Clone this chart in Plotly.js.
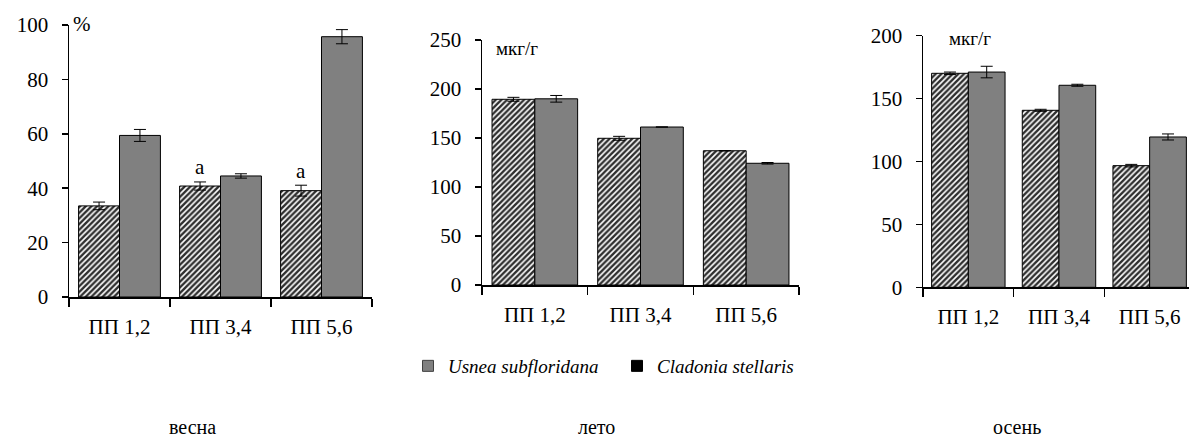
<!DOCTYPE html>
<html>
<head>
<meta charset="utf-8">
<script src="https://cdn.plot.ly/plotly-3.0.1.min.js"></script>
<style>html,body{margin:0;padding:0;background:#fff;}#chart{width:1189px;height:438px;}</style>
</head>
<body>
<div id="chart"></div>
<script>
// Data
var categories = ["ПП 1,2", "ПП 3,4", "ПП 5,6"];
var seriesNames = ["Usnea subfloridana", "Cladonia stellaris"];
var seasons = ["весна", "лето", "осень"];
var units = ["%", "мкг/г", "мкг/г"];

var springUsnea = [33.5, 40.8, 39.1];
var springUsneaErr = [1.4, 1.5, 2.0];
var springCladonia = [59.4, 44.5, 95.7];
var springCladoniaErr = [2.2, 0.8, 2.6];

var summerUsnea = [189.5, 149.7, 137.0];
var summerUsneaErr = [2.0, 2.0, 0];
var summerCladonia = [190.0, 161.2, 124.2];
var summerCladoniaErr = [3.4, 0, 0.8];

var autumnUsnea = [170.1, 140.7, 96.7];
var autumnUsneaErr = [1.0, 0.8, 1.0];
var autumnCladonia = [171.1, 160.6, 119.5];
var autumnCladoniaErr = [4.6, 0.8, 2.4];

var springMarks = ["", "a", "a"];

var FONT = '"Liberation Serif", "Times New Roman", serif';

function hatched(x, y, err, xa, ya) {
  return {
    type: "bar", x: x, y: y, xaxis: xa, yaxis: ya, showlegend: false,
    marker: {
      color: "#ffffff",
      line: {color: "#000000", width: 1},
      pattern: {shape: "/", fgcolor: "#2e2e2e", bgcolor: "#ffffff", size: 4, solidity: 0.6, fillmode: "replace"}
    },
    error_y: {type: "data", array: err, visible: true, color: "#000000", thickness: 1, width: 6},
    hoverinfo: "none"
  };
}
function solid(x, y, err, xa, ya) {
  return {
    type: "bar", x: x, y: y, xaxis: xa, yaxis: ya, showlegend: false,
    marker: {color: "#808080", line: {color: "#000000", width: 1}},
    error_y: {type: "data", array: err, visible: true, color: "#000000", thickness: 1, width: 6},
    hoverinfo: "none"
  };
}

var data = [
  hatched(categories, springUsnea, springUsneaErr, "x", "y"),
  solid(categories, springCladonia, springCladoniaErr, "x", "y"),
  hatched(categories, summerUsnea, summerUsneaErr, "x2", "y2"),
  solid(categories, summerCladonia, summerCladoniaErr, "x2", "y2"),
  hatched(categories, autumnUsnea, autumnUsneaErr, "x3", "y3"),
  solid(categories, autumnCladonia, autumnCladoniaErr, "x3", "y3"),
  // legend entries (no marks drawn)
  {type: "scatter", mode: "markers", x: [null], y: [null], xaxis: "x", yaxis: "y",
   name: "<i>" + seriesNames[0] + "</i>",
   marker: {symbol: "square", size: 11, color: "#808080", line: {color: "#404040", width: 1}}, showlegend: true},
  {type: "scatter", mode: "markers", x: [null], y: [null], xaxis: "x", yaxis: "y",
   name: "<i>" + seriesNames[1] + "</i>",
   marker: {symbol: "square", size: 11, color: "#000000", line: {color: "#000000", width: 1}}, showlegend: true}
];

function xax(domain, range) {
  return {
    domain: domain, type: "category", range: range,
    showline: true, linecolor: "#000", linewidth: 1.5,
    ticks: "outside", tickson: "boundaries", ticklen: 8, tickwidth: 1.5, tickcolor: "#000",
    ticklabelstandoff: 10,
    showgrid: false, zeroline: false, fixedrange: true,
    tickfont: {family: FONT, size: 21, color: "#000"}
  };
}
function yax(domain, range, dtick, anchor) {
  return {
    domain: domain, range: range, dtick: dtick, anchor: anchor,
    showline: true, linecolor: "#000", linewidth: 1.5,
    ticks: "outside", ticklen: 6, tickwidth: 1.5, tickcolor: "#000",
    ticklabelstandoff: 9,
    showgrid: false, zeroline: false, fixedrange: true,
    tickfont: {family: FONT, size: 21, color: "#000"}
  };
}

var annotations = [];
// significance marks
springMarks.forEach(function (m, i) {
  if (m) annotations.push({x: i - 0.2, y: springUsnea[i] + springUsneaErr[i] + 0.2, xref: "x", yref: "y",
    text: m, showarrow: false, yanchor: "bottom", font: {family: FONT, size: 21, color: "#000"}});
});
// unit labels
var unitPos = [[71, 24, 21], [494, 48, 19], [947, 38, 19]];
units.forEach(function (u, i) {
  annotations.push({x: unitPos[i][0] / 1189, y: 1 - unitPos[i][1] / 438, xref: "paper", yref: "paper",
    xanchor: "left", yanchor: "middle", text: u, showarrow: false,
    font: {family: FONT, size: unitPos[i][2], color: "#000"}});
});
// season labels
var seasonX = [192, 596, 1017];
seasons.forEach(function (s, i) {
  annotations.push({x: seasonX[i] / 1189, y: 0, xref: "paper", yref: "paper",
    xanchor: "center", yanchor: "bottom", yshift: -2, text: s, showarrow: false,
    font: {family: FONT, size: 20, color: "#000"}});
});

var layout = {
  width: 1189, height: 438,
  margin: {l: 0, r: 0, t: 0, b: 0},
  paper_bgcolor: "#fff", plot_bgcolor: "rgba(0,0,0,0)",
  barmode: "group", bargap: 0.19, bargroupgap: 0,
  font: {family: FONT, color: "#000"},
  showlegend: true,
  legend: {orientation: "h", x: 408 / 1189, y: 1 - 366 / 438, xanchor: "left", yanchor: "middle",
    font: {family: FONT, size: 19, color: "#000"}, itemwidth: 30, tracegroupgap: 0,
    entrywidth: 164, entrywidthmode: "pixels",
    bgcolor: "rgba(0,0,0,0)", itemclick: false, itemdoubleclick: false},
  xaxis: Object.assign(xax([69 / 1189, 372 / 1189], [-0.5, 2.5]), {anchor: "y"}),
  yaxis: yax([(438 - 297) / 438, (438 - 25) / 438], [0, 100], 20, "x"),
  xaxis2: Object.assign(xax([482 / 1189, 799 / 1189], [-0.5, 2.5]), {anchor: "y2"}),
  yaxis2: yax([(438 - 285) / 438, (438 - 40) / 438], [0, 250], 50, "x2"),
  xaxis3: Object.assign(xax([923 / 1189, 1], [-0.5, 2.434]), {anchor: "y3"}),
  yaxis3: yax([(438 - 287.3) / 438, (438 - 35.7) / 438], [0, 200], 50, "x3"),
  annotations: annotations
};

Plotly.newPlot("chart", data, layout, {displayModeBar: false, staticPlot: true});
</script>
</body>
</html>
